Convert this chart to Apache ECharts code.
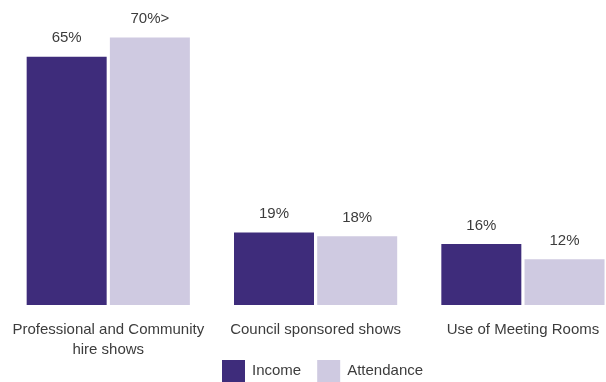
<!DOCTYPE html>
<html>
<head>
<meta charset="utf-8">
<script src="https://cdn.jsdelivr.net/npm/echarts@6/dist/echarts.min.js"></script>
<style>
  html, body { margin: 0; padding: 0; background: #fff; overflow: hidden; }
  #wrap { width: 606px; height: 382px; overflow: hidden; }
  /* the last bar runs past the right edge, so the canvas is wider than the frame */
  #chart { width: 640px; height: 382px; }
</style>
</head>
<body>
<div id="wrap"><div id="chart"></div></div>
<script>
// Share of income and attendance by activity type (%)
const categories = ['Professional and Community\nhire shows', 'Council sponsored shows', 'Use of Meeting Rooms'];
const incomeValues = [65, 19, 16];
const attendanceValues = [70, 18, 12];
const incomeLabels = ['65%', '19%', '16%'];
const attendanceLabels = ['70%>', '18%', '12%'];

const FONT = 'Liberation Sans, Arial, sans-serif';
const TEXT = '#3c3c3c';

const chart = echarts.init(document.getElementById('chart'), null, { renderer: 'canvas' });

function valueLabel(labels) {
  return {
    show: true,
    position: 'top',
    distance: 11,
    color: TEXT,
    fontFamily: FONT,
    fontSize: 15,
    formatter: p => labels[p.dataIndex]
  };
}

chart.setOption({
  animation: false,
  grid: { left: 4.6, top: 37.6, width: 622, height: 267.4, containLabel: false },
  xAxis: {
    type: 'category',
    data: categories,
    axisLine: { show: false },
    axisTick: { show: false },
    axisLabel: {
      color: TEXT,
      fontFamily: FONT,
      fontSize: 15,
      margin: 15,
      lineHeight: 20,
      interval: 0
    }
  },
  yAxis: {
    type: 'value',
    min: 0,
    max: 70,
    show: false
  },
  legend: {
    data: ['Income', 'Attendance'],
    left: 222,
    top: 360,
    padding: 0,
    itemWidth: 23,
    itemHeight: 22,
    itemGap: 16,
    textStyle: { color: TEXT, fontFamily: FONT, fontSize: 15, padding: [0, 0, 0, 2] },
    icon: 'rect'
  },
  series: [
    {
      name: 'Income',
      type: 'bar',
      data: incomeValues,
      barWidth: 80,
      barGap: '4%',
      itemStyle: { color: '#3e2c7b' },
      label: valueLabel(incomeLabels)
    },
    {
      name: 'Attendance',
      type: 'bar',
      data: attendanceValues,
      barWidth: 80,
      barGap: '4%',
      itemStyle: { color: '#cfcae1' },
      label: valueLabel(attendanceLabels)
    }
  ]
});
</script>
</body>
</html>
